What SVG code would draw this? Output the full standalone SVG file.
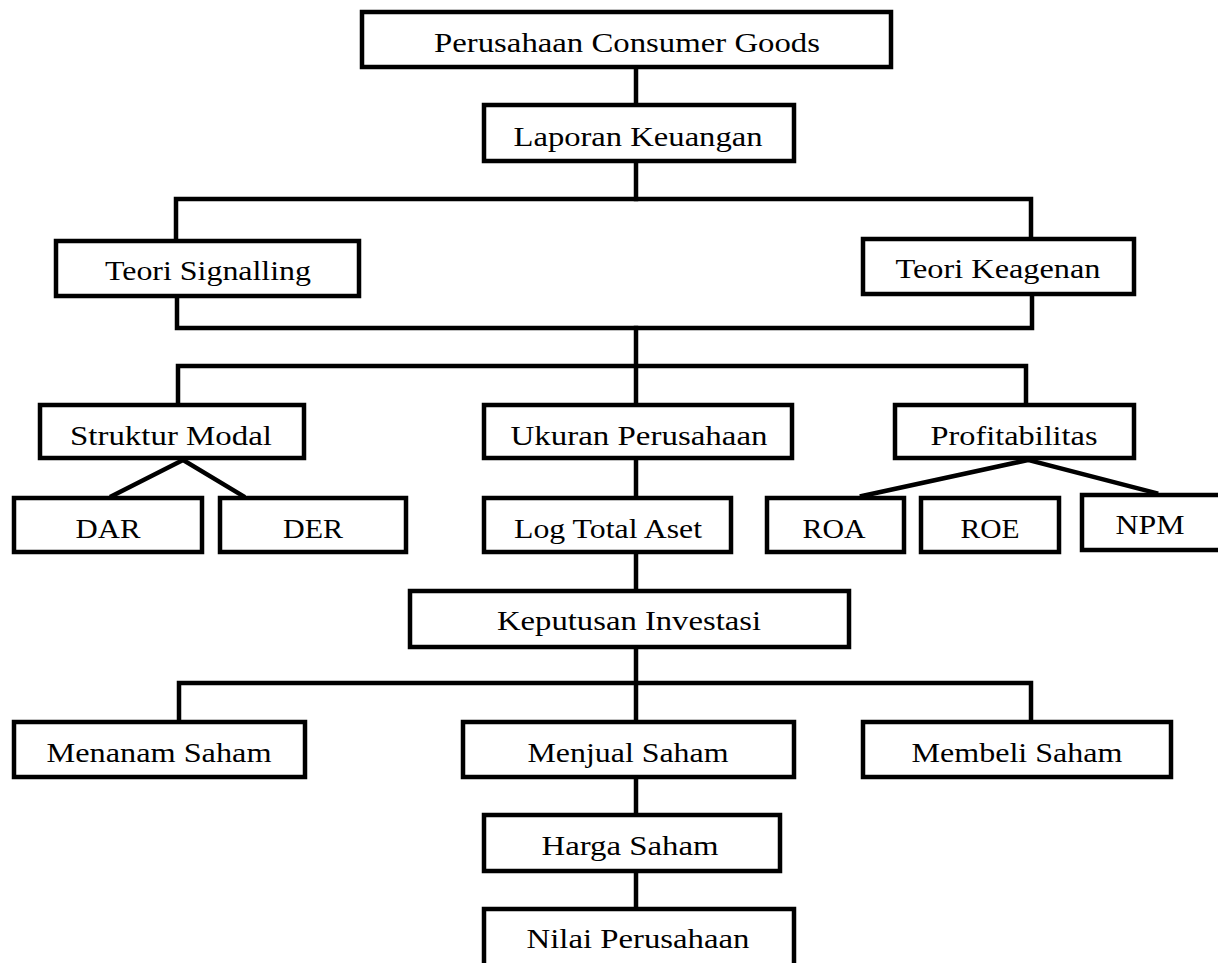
<svg xmlns="http://www.w3.org/2000/svg" width="1218" height="963" viewBox="0 0 1218 963">
<style>
.box{fill:#fff;stroke:#000;stroke-width:4.5}
.t{font-family:"Liberation Serif","Times New Roman",serif;font-size:27px;fill:#000;text-anchor:middle}
.c{fill:none;stroke:#000;stroke-width:4.5;stroke-linecap:square;stroke-linejoin:miter}
</style>
<rect width="1218" height="963" fill="#fff"/>
<g id="connectors">
<path class="c" d="M636,69V103"/>
<path class="c" d="M636,163V199"/>
<path class="c" d="M176,237V199H1031V235"/>
<path class="c" d="M177,298V328H1032V296"/>
<path class="c" d="M636,328V403"/>
<path class="c" d="M178,403V366H1026V403"/>
<path class="c" d="M636,460V496"/>
<path class="c" d="M636,554V589"/>
<path class="c" d="M183,460L112,496M183,460L243,496"/>
<path class="c" d="M1028,460L862,496M1028,460L1156,493"/>
<path class="c" d="M636,649V720"/>
<path class="c" d="M179,720V683H1031V720"/>
<path class="c" d="M636,779V813"/>
<path class="c" d="M636,873V907"/>
</g>
<g id="n1"><rect class="box" x="362" y="12" width="529" height="55"/><text class="t" x="627" y="52" textLength="386" lengthAdjust="spacingAndGlyphs">Perusahaan Consumer Goods</text></g>
<g id="n2"><rect class="box" x="484" y="105" width="310" height="56"/><text class="t" x="638" y="146" textLength="249" lengthAdjust="spacingAndGlyphs">Laporan Keuangan</text></g>
<g id="n3"><rect class="box" x="56" y="241" width="303" height="55"/><text class="t" x="208" y="280" textLength="206" lengthAdjust="spacingAndGlyphs">Teori Signalling</text></g>
<g id="n4"><rect class="box" x="863" y="239" width="271" height="55"/><text class="t" x="998" y="278" textLength="205" lengthAdjust="spacingAndGlyphs">Teori Keagenan</text></g>
<g id="n5"><rect class="box" x="40" y="405" width="264" height="53"/><text class="t" x="171" y="445" textLength="202" lengthAdjust="spacingAndGlyphs">Struktur Modal</text></g>
<g id="n6"><rect class="box" x="484" y="405" width="308" height="53"/><text class="t" x="639" y="445" textLength="257" lengthAdjust="spacingAndGlyphs">Ukuran Perusahaan</text></g>
<g id="n7"><rect class="box" x="895" y="405" width="239" height="53"/><text class="t" x="1014" y="445" textLength="167" lengthAdjust="spacingAndGlyphs">Profitabilitas</text></g>
<g id="n8"><rect class="box" x="14" y="498" width="188" height="54"/><text class="t" x="108" y="538" textLength="65" lengthAdjust="spacingAndGlyphs">DAR</text></g>
<g id="n9"><rect class="box" x="220" y="498" width="186" height="54"/><text class="t" x="313" y="538" textLength="60" lengthAdjust="spacingAndGlyphs">DER</text></g>
<g id="n10"><rect class="box" x="484" y="498" width="247" height="54"/><text class="t" x="608" y="538" textLength="188" lengthAdjust="spacingAndGlyphs">Log Total Aset</text></g>
<g id="n11"><rect class="box" x="767" y="498" width="137" height="54"/><text class="t" x="834" y="538" textLength="63" lengthAdjust="spacingAndGlyphs">ROA</text></g>
<g id="n12"><rect class="box" x="921" y="498" width="138" height="54"/><text class="t" x="990" y="538" textLength="59" lengthAdjust="spacingAndGlyphs">ROE</text></g>
<g id="n13"><rect class="box" x="1082" y="495" width="150" height="55"/><text class="t" x="1150" y="534" textLength="69" lengthAdjust="spacingAndGlyphs">NPM</text></g>
<g id="n14"><rect class="box" x="410" y="591" width="439" height="56"/><text class="t" x="629" y="630" textLength="264" lengthAdjust="spacingAndGlyphs">Keputusan Investasi</text></g>
<g id="n15"><rect class="box" x="14" y="722" width="291" height="55"/><text class="t" x="159" y="762" textLength="225" lengthAdjust="spacingAndGlyphs">Menanam Saham</text></g>
<g id="n16"><rect class="box" x="463" y="722" width="331" height="55"/><text class="t" x="628" y="762" textLength="201" lengthAdjust="spacingAndGlyphs">Menjual Saham</text></g>
<g id="n17"><rect class="box" x="863" y="722" width="308" height="55"/><text class="t" x="1017" y="762" textLength="211" lengthAdjust="spacingAndGlyphs">Membeli Saham</text></g>
<g id="n18"><rect class="box" x="484" y="815" width="296" height="56"/><text class="t" x="630" y="855" textLength="177" lengthAdjust="spacingAndGlyphs">Harga Saham</text></g>
<g id="n19"><rect class="box" x="484" y="909" width="310" height="70"/><text class="t" x="638" y="948" textLength="223" lengthAdjust="spacingAndGlyphs">Nilai Perusahaan</text></g>
</svg>
